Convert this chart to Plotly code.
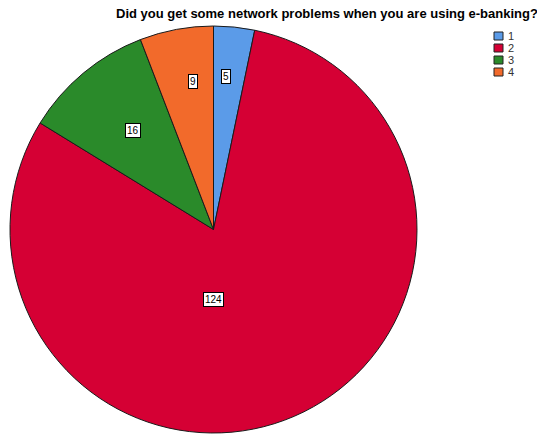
import math
import plotly.graph_objects as go

categories = ["1", "2", "3", "4"]
values = [5, 124, 16, 9]
colors = ["#5B9BE8", "#D50034", "#2A8A2A", "#F26A2B"]
title_text = "Did you get some network problems when you are using e-banking?"

W, H = 537, 438
cx, cy, R = 213.5, 229.5, 203.5  # pixel geometry of the pie

fig = go.Figure()
fig.add_trace(go.Pie(
    labels=categories, values=values, sort=False, direction="clockwise", rotation=0,
    marker=dict(colors=colors, line=dict(color="#1a1a1a", width=1)),
    textinfo="none", hoverinfo="label+value", showlegend=False,
    domain=dict(x=[(cx - R) / W, (cx + R) / W], y=[1 - (cy + R) / H, 1 - (cy - R) / H]),
))

# value labels at mid-angle of each slice
label_rfrac = [0.79, 0.38, 0.68, 0.77]
label_nudge = [-1.3, 23.4, 0.0, 2.9]  # degrees
total = sum(values)
start = 0.0
for v, rf, nd in zip(values, label_rfrac, label_nudge):
    span = v / total * 360
    mid = math.radians(start + span / 2 + nd)
    start += span
    px = cx + rf * R * math.sin(mid)
    py = cy - rf * R * math.cos(mid)
    fig.add_annotation(x=px / W, y=1 - py / H, xref="paper", yref="paper", text=str(v),
                       showarrow=False, font=dict(family="Liberation Sans, Arial", size=10, color="black"),
                       bgcolor="white", bordercolor="black", borderwidth=1, borderpad=1)

# title
fig.add_annotation(x=326.5 / W, y=1 - 4 / H, xref="paper", yref="paper", text="<b>" + title_text + "</b>",
                   showarrow=False, xanchor="center", yanchor="top",
                   font=dict(family="Liberation Sans, Arial", size=13, color="black"))

# legend
for i, (c, col) in enumerate(zip(categories, colors)):
    y0 = 32 + 12 * i
    fig.add_shape(type="rect", xref="paper", yref="paper",
                  x0=494 / W, x1=503 / W, y0=1 - (y0 + 8) / H, y1=1 - y0 / H,
                  fillcolor=col, line=dict(color="#222", width=1))
    fig.add_annotation(x=506 / W, y=1 - (y0 + 4) / H, xref="paper", yref="paper", text=c,
                       showarrow=False, xanchor="left", yanchor="middle",
                       font=dict(family="Liberation Sans, Arial", size=11, color="#333"))

fig.update_layout(width=W, height=H, margin=dict(l=0, r=0, t=0, b=0),
                  paper_bgcolor="white", plot_bgcolor="white", showlegend=False)
fig.write_html("out.html")
